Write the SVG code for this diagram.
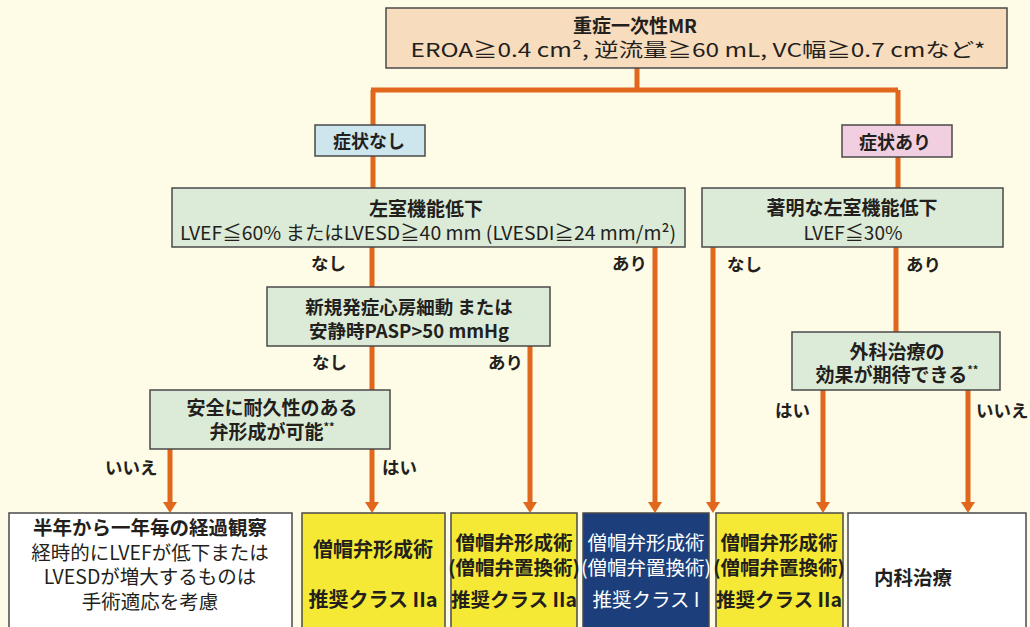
<svg xmlns="http://www.w3.org/2000/svg" width="1030" height="627" viewBox="0 0 1030 627">
<defs>
<marker id="ah" markerUnits="userSpaceOnUse" markerWidth="12" markerHeight="16" refX="0" refY="8" orient="auto" viewBox="0 0 12 16">
<path d="M0,1 L11,8 L0,15 Z" fill="#e0671c"/>
</marker>
<style>
.bx{stroke:#4a4a4a;stroke-width:1.5}
.t{font-family:"Noto Sans CJK JP","Noto Sans",sans-serif;fill:#231f1c;text-anchor:middle}
.b{font-weight:bold}
.w{fill:#ffffff}
.lbl{font-family:"Noto Sans CJK JP","Noto Sans",sans-serif;fill:#231f1c;font-size:17.5px;font-weight:bold}
.c{fill:none;stroke:#e0671c;stroke-width:5}
</style>
</defs>
<rect width="1030" height="627" fill="#fefbe6"/>
<g id="connectors">
<path class="c" d="M637,68 V90 M371,90 H898 M373,90 V188 M898,90 V188"/>
<path class="c" d="M372,247 V287 M372,346 V390"/>
<path class="c" d="M896,247 V332"/>
<path class="c" d="M372,449 V502" marker-end="url(#ah)"/>
<path class="c" d="M170,449 V502" marker-end="url(#ah)"/>
<path class="c" d="M530,346 V502" marker-end="url(#ah)"/>
<path class="c" d="M655,247 V502" marker-end="url(#ah)"/>
<path class="c" d="M713,247 V502" marker-end="url(#ah)"/>
<path class="c" d="M823,390 V502" marker-end="url(#ah)"/>
<path class="c" d="M968,390 V502" marker-end="url(#ah)"/>
<text class="lbl" x="311" y="270">なし</text>
<text class="lbl" x="612" y="270">あり</text>
<text class="lbl" x="727" y="271">なし</text>
<text class="lbl" x="906" y="271">あり</text>
<text class="lbl" x="312" y="369">なし</text>
<text class="lbl" x="488" y="369">あり</text>
<text class="lbl" x="105" y="474">いいえ</text>
<text class="lbl" x="382" y="474">はい</text>
<text class="lbl" x="775" y="417">はい</text>
<text class="lbl" x="976" y="417">いいえ</text>
</g>
<g id="top">
<rect class="bx" x="386" y="8" width="621" height="60" fill="#f8dcbe"/>
<text class="t b" x="635" y="33" font-size="19">重症一次性MR</text>
<text class="t" x="698" y="57" font-size="19" textLength="575" lengthAdjust="spacingAndGlyphs">EROA≧0.4 cm², 逆流量≧60 mL, VC幅≧0.7 cmなど*</text>
</g>
<g id="asym">
<rect class="bx" x="315" y="125" width="110" height="31" fill="#cde6ee"/>
<text class="t b" x="369" y="148" font-size="18">症状なし</text>
</g>
<g id="sym">
<rect class="bx" x="842" y="125" width="110" height="32" fill="#f2cfe0"/>
<text class="t b" x="895" y="149" font-size="18">症状あり</text>
</g>
<g id="lvdys">
<rect class="bx" x="172" y="188" width="513" height="59" fill="#dcebd8"/>
<text class="t b" x="426" y="216" font-size="19">左室機能低下</text>
<text class="t" x="428" y="240" font-size="19" textLength="496" lengthAdjust="spacingAndGlyphs">LVEF≦60% またはLVESD≧40 mm (LVESDI≧24 mm/m²)</text>
</g>
<g id="severe">
<rect class="bx" x="702" y="188" width="301" height="59" fill="#dcebd8"/>
<text class="t b" x="852" y="215" font-size="19">著明な左室機能低下</text>
<text class="t" x="853" y="240" font-size="19">LVEF≦30%</text>
</g>
<g id="af">
<rect class="bx" x="267" y="287" width="283" height="59" fill="#dcebd8"/>
<text class="t b" x="409" y="314" font-size="18.5">新規発症心房細動 または</text>
<text class="t b" x="409" y="338" font-size="18.5">安静時PASP&gt;50 mmHg</text>
</g>
<g id="repair">
<rect class="bx" x="150" y="390" width="240" height="59" fill="#dcebd8"/>
<text class="t b" x="272" y="415" font-size="19">安全に耐久性のある</text>
<text class="t b" x="272" y="439" font-size="19">弁形成が可能<tspan font-size="11" dy="-8">**</tspan></text>
</g>
<g id="surg">
<rect class="bx" x="792" y="332" width="208" height="58" fill="#dcebd8"/>
<text class="t b" x="897" y="359" font-size="19">外科治療の</text>
<text class="t b" x="897" y="382" font-size="19">効果が期待できる<tspan font-size="11" dy="-8">**</tspan></text>
</g>
<g id="watch">
<rect class="bx" x="9" y="513" width="283" height="120" fill="#ffffff"/>
<text class="t b" x="150" y="535" font-size="19.5">半年から一年毎の経過観察</text>
<text class="t" x="150" y="560" font-size="19.5">経時的にLVEFが低下または</text>
<text class="t" x="150" y="584" font-size="19.5">LVESDが増大するものは</text>
<text class="t" x="150" y="609" font-size="19.5">手術適応を考慮</text>
</g>
<g id="r1">
<rect class="bx" x="302" y="513" width="143" height="120" fill="#f6e935"/>
<text class="t b" x="373" y="557" font-size="20">僧帽弁形成術</text>
<text class="t b" x="373" y="607" font-size="20">推奨クラス IIa</text>
</g>
<g id="r2">
<rect class="bx" x="451" y="513" width="126" height="120" fill="#f6e935"/>
<text class="t b" x="514" y="550" font-size="19.5">僧帽弁形成術</text>
<text class="t b" x="514" y="575" font-size="19.5">(僧帽弁置換術)</text>
<text class="t b" x="514" y="607" font-size="19.5">推奨クラス IIa</text>
</g>
<g id="r3">
<rect class="bx" x="583" y="513" width="126" height="120" fill="#1c3f7c"/>
<text class="t w" x="646" y="550" font-size="19.5">僧帽弁形成術</text>
<text class="t w" x="646" y="575" font-size="19.5">(僧帽弁置換術)</text>
<text class="t w" x="646" y="607" font-size="19.5">推奨クラス I</text>
</g>
<g id="r4">
<rect class="bx" x="716" y="513" width="127" height="120" fill="#f6e935"/>
<text class="t b" x="779" y="550" font-size="19.5">僧帽弁形成術</text>
<text class="t b" x="779" y="575" font-size="19.5">(僧帽弁置換術)</text>
<text class="t b" x="779" y="607" font-size="19.5">推奨クラス IIa</text>
</g>
<g id="med">
<rect class="bx" x="848" y="513" width="178" height="120" fill="#ffffff"/>
<text class="t b" x="913" y="585" font-size="19.5">内科治療</text>
</g>
</svg>
